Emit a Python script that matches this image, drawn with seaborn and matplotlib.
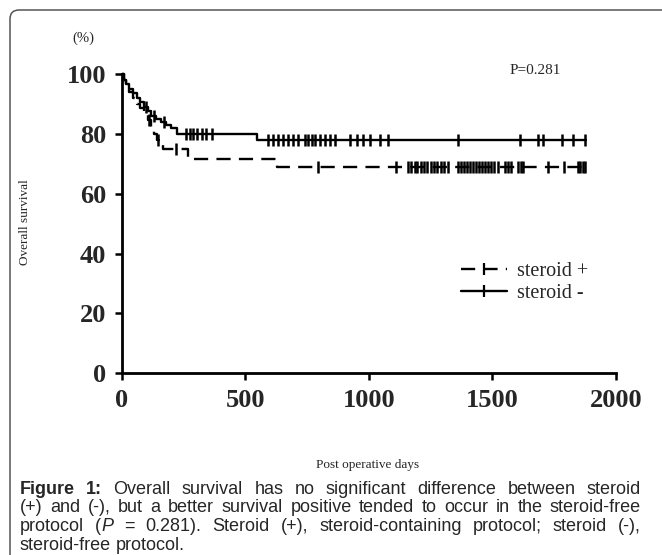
import numpy as np
import pandas as pd
import matplotlib
matplotlib.use("Agg")
import matplotlib.pyplot as plt
from matplotlib.lines import Line2D
from matplotlib.patches import FancyBboxPatch
import seaborn as sns

# Kaplan-Meier steps (days, % surviving)
steroid_pos_days = [0, 8, 18, 30, 45, 60, 75, 90, 105, 118, 130, 142, 155, 167, 268, 627, 1875]
steroid_pos_surv = [100, 98, 96, 94, 92, 90, 88.5, 86.5, 84.5, 82, 80, 78, 76.5, 74.8, 71.6, 68.8, 68.8]
steroid_neg_days = [0, 8, 18, 30, 45, 60, 75, 90, 105, 120, 140, 160, 180, 200, 222, 546, 1880]
steroid_neg_surv = [100, 98, 96.5, 95, 93.5, 92, 90.5, 89, 87.5, 86, 85, 84, 83, 82, 80, 78, 78]

# censored patients (days)
steroid_pos_censor = [112, 148, 220, 795, 1110, 1160, 1172, 1185, 1195, 1210, 1222, 1235, 1250,
                      1262, 1275, 1290, 1305, 1320, 1360, 1372, 1385, 1397, 1410, 1420, 1432,
                      1445, 1458, 1470, 1482, 1495, 1508, 1523, 1550, 1562, 1575, 1603, 1615,
                      1625, 1725, 1790, 1845, 1855, 1865, 1875]
steroid_neg_censor = [100, 130, 170, 262, 275, 289, 305, 323, 343, 364, 593, 613, 633, 654, 674,
                      694, 714, 741, 755, 768, 782, 802, 822, 843, 863, 923, 951, 977, 1004,
                      1045, 1079, 1360, 1611, 1685, 1705, 1781, 1826, 1875]

x_ticks = [0, 500, 1000, 1500, 2000]
y_ticks = [0, 20, 40, 60, 80, 100]
legend_labels = ["steroid +", "steroid -"]
p_text = "P=0.281"

W, H, DPI = 662, 555, 100


def surv_at(days, surv, t):
    idx = np.searchsorted(np.asarray(days), np.asarray(t), side="right") - 1
    return np.asarray(surv)[idx]


sns.set_style("ticks")
plt.rcParams["font.family"] = ["Liberation Serif", "DejaVu Serif"]

fig = plt.figure(figsize=(W / DPI, H / DPI), dpi=DPI)
ax = fig.add_axes([121.7 / W, 1 - 373.3 / H, (616 - 121.7) / W, (373.3 - 74) / H])

dash = (0, (6, 3.5))
curves = [
    (steroid_pos_days, steroid_pos_surv, steroid_pos_censor, dash),
    (steroid_neg_days, steroid_neg_surv, steroid_neg_censor, "-"),
]
for days, surv, cens, ls in curves:
    df = pd.DataFrame({"day": days, "surv": surv})
    sns.lineplot(data=df, x="day", y="surv", estimator=None, sort=False,
                 drawstyle="steps-post", color="black", linewidth=1.7, ax=ax)
    ax.lines[-1].set_linestyle(ls)
    ax.lines[-1].set_clip_on(False)
    cdf = pd.DataFrame({"day": cens, "surv": surv_at(days, surv, cens)})
    sns.scatterplot(data=cdf, x="day", y="surv", marker="|", s=75, linewidth=1.8,
                    color="black", ax=ax, clip_on=False, zorder=3)

ax.set_xlim(0, 2000)
ax.set_ylim(0, 100)
ax.set_xticks(x_ticks)
ax.set_yticks(y_ticks)
ax.set_xlabel("")
ax.set_ylabel("")
for lab in ax.get_xticklabels() + ax.get_yticklabels():
    lab.set_fontweight("bold")
    lab.set_fontsize(19)
ax.tick_params(axis="y", direction="out", length=5, width=1.8, color="black", pad=6)
ax.tick_params(axis="x", direction="out", length=5, width=1.8, color="black", pad=6)
for side in ["left", "bottom"]:
    ax.spines[side].set_linewidth(2.0)
    ax.spines[side].set_color("black")
sns.despine(ax=ax)

handles = [
    Line2D([], [], color="black", lw=1.7, linestyle=dash, marker="|", markersize=8, mew=1.6),
    Line2D([], [], color="black", lw=1.7, linestyle="-", marker="|", markersize=8, mew=1.6),
]
fig.legend(handles, legend_labels, loc="upper left", bbox_to_anchor=(461 / W, 1 - 262 / H),
           frameon=False, fontsize=14.5, handlelength=2.3, handletextpad=0.5,
           labelspacing=0.15, borderaxespad=0, borderpad=0, numpoints=1)

fig.text(535 / W, 1 - 70 / H, p_text, fontsize=11, ha="center", va="center")
fig.text(83 / W, 1 - 38 / H, "(%)", fontsize=10.5, ha="center", va="center")
fig.text(25 / W, 1 - 222 / H, "Overall survival", fontsize=9.5, rotation=90,
         ha="center", va="center")
fig.text(368 / W, 1 - 465 / H, "Post operative days", fontsize=9.5, ha="center", va="center")

# rounded frame around the figure panel
frame = FancyBboxPatch((0.10, -0.5), 7.0, 5.45 + 0.5, boxstyle="round,pad=0,rounding_size=0.09",
                       transform=fig.dpi_scale_trans, fill=False, edgecolor="#555555",
                       linewidth=1.1)
fig.add_artist(frame)

# justified caption
N, B = "normal", "bold"
caption = [
    [[("Figure", B, "normal")], [("1:", B, "normal")]] + [[(w, N, "normal")] for w in
     "Overall survival has no significant difference between steroid".split()],
    [[(w, N, "normal")] for w in
     "(+) and (-), but a better survival positive tended to occur in the steroid-free".split()],
    [[("protocol", N, "normal")], [("(", N, "normal"), ("P", N, "italic")], [("=", N, "normal")],
     [("0.281).", N, "normal")]] + [[(w, N, "normal")] for w in
     "Steroid (+), steroid-containing protocol; steroid (-),".split()],
    [[(w, N, "normal")] for w in "steroid-free protocol.".split()],
]
cap_font = ["Liberation Sans", "DejaVu Sans"]
cap_size = 13.0
left_px, right_px = 20, 641
renderer = fig.canvas.get_renderer()


def run_width(text, weight, style):
    t = fig.text(0, 0, text, fontsize=cap_size, family=cap_font, fontweight=weight,
                 fontstyle=style)
    w = t.get_window_extent(renderer).width
    t.remove()
    return w


space_w = run_width("a b", N, "normal") - run_width("ab", N, "normal")
for i, line in enumerate(caption):
    y = 1 - (494 + 18.5 * i) / H
    widths = [[run_width(*r) for r in word] for word in line]
    total = sum(sum(ws) for ws in widths)
    if i < len(caption) - 1:
        gap = max((right_px - left_px - total) / (len(line) - 1), space_w * 0.6)
    else:
        gap = space_w
    x = left_px
    for word, ws in zip(line, widths):
        for (text, weight, style), w in zip(word, ws):
            fig.text(x / W, y, text, fontsize=cap_size, family=cap_font, fontweight=weight,
                     fontstyle=style, ha="left", va="baseline")
            x += w
        x += gap

fig.savefig("out.png", dpi=DPI)
